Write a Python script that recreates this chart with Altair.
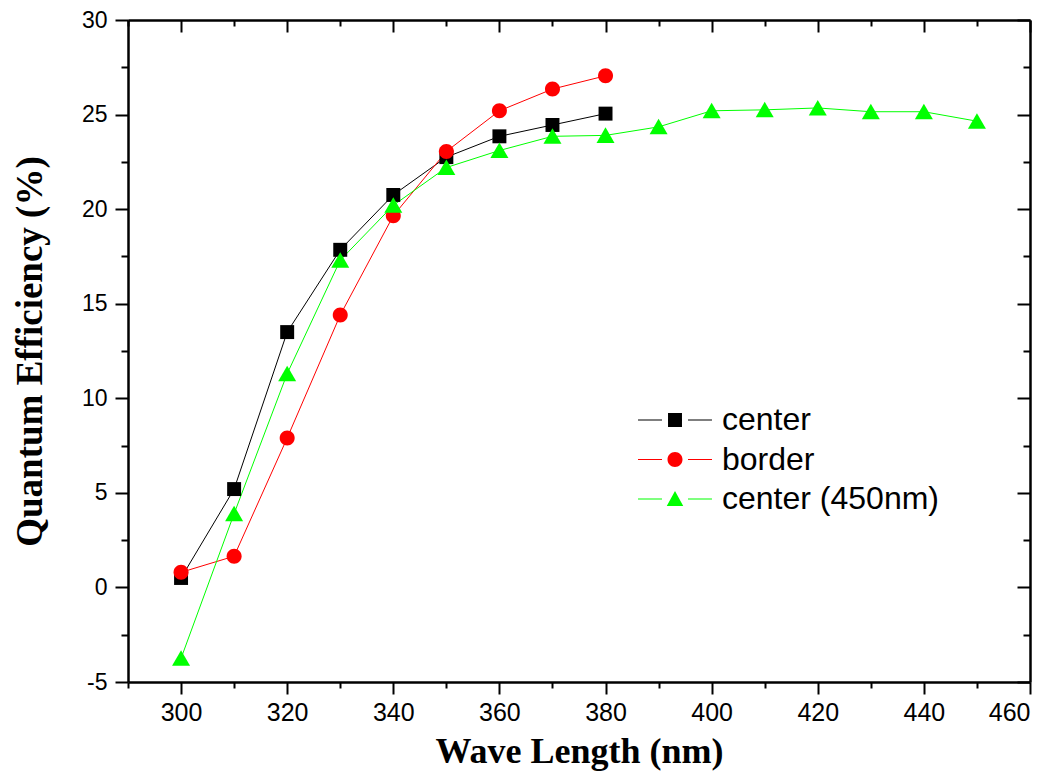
import altair as alt
import pandas as pd

# ---- data ----
series_names = ["center", "border", "center (450nm)"]
series_colors = ["#000000", "#FF0000", "#00FF00"]

wl_center = [300, 310, 320, 330, 340, 350, 360, 370, 380]
qe_center = [0.5, 5.2, 13.5, 17.85, 20.75, 22.75, 23.85, 24.45, 25.05]

wl_border = [300, 310, 320, 330, 340, 350, 360, 370, 380]
qe_border = [0.8, 1.65, 7.9, 14.4, 19.65, 23.05, 25.2, 26.35, 27.05]

wl_450 = [300, 310, 320, 330, 340, 350, 360, 370, 380, 390, 400, 410, 420, 430, 440, 450]
qe_450 = [-3.75, 3.9, 11.3, 17.3, 20.2, 22.2, 23.1, 23.85, 23.9, 24.35, 25.2, 25.25, 25.35, 25.15, 25.15, 24.65]

x_ticks = list(range(290, 461, 10))
y_ticks = [-5 + 2.5 * i for i in range(15)]

frames = []
for name, wl, qe in [(series_names[0], wl_center, qe_center),
                     (series_names[1], wl_border, qe_border),
                     (series_names[2], wl_450, qe_450)]:
    frames.append(pd.DataFrame({"wl": wl, "qe": qe, "series": name}))
df = pd.concat(frames, ignore_index=True)

W, H = 902, 662

# marker shapes (custom paths, unit = sqrt(size)/2)
plot_shapes = [
    "M-0.93,-0.93H0.93V0.93H-0.93Z",
    "M-1,0A1,1,0,1,1,1,0A1,1,0,1,1,-1,0Z",
    "M0,-1.07L1.2,1L-1.2,1Z",
]
stub = "M-4.93,-0.08H-1.73V0.08H-4.93ZM1.73,-0.08H4.93V0.08H1.73Z"
legend_shapes = [
    "M-0.93,-0.93H0.93V0.93H-0.93Z" + stub,
    "M-1,0A1,1,0,1,1,1,0A1,1,0,1,1,-1,0Z" + stub,
    "M0,-1.07L1.1,0.93L-1.1,0.93Z" + stub,
]

xscale = alt.Scale(domain=[290, 460], nice=False, zero=False)
yscale = alt.Scale(domain=[-5, 30], nice=False, zero=False)
cscale = alt.Scale(domain=series_names, range=series_colors)

x_tick_size = {"condition": {"test": "datum.value % 20 === 0", "value": 12}, "value": 6}
y_tick_size = {"condition": {"test": "datum.value % 5 === 0", "value": 13}, "value": 7}

x_bottom = alt.Axis(values=x_ticks, orient="bottom",
                    labelExpr="datum.value % 20 === 0 ? '' + datum.value : ''",
                    tickSize=x_tick_size, labelPadding=6, titlePadding=9,
                    title="Wave Length (nm)")
y_left = alt.Axis(values=y_ticks, orient="left",
                  labelExpr="datum.value % 5 === 0 ? '' + datum.value : ''",
                  tickSize=y_tick_size, labelPadding=8, titlePadding=32,
                  titleFontSize=37, labelFontSize=23,
                  title="Quantum Efficiency (%)")
x_top = alt.Axis(values=x_ticks, orient="bottom", offset=-H, labels=False,
                 tickSize=x_tick_size, title=None)
y_right = alt.Axis(values=y_ticks, orient="left", offset=-W, labels=False,
                   tickSize=y_tick_size, title=None)

base = alt.Chart(df)

lines = base.mark_line(strokeWidth=1).encode(
    x=alt.X("wl:Q", scale=xscale, axis=x_bottom),
    y=alt.Y("qe:Q", scale=yscale, axis=y_left),
    color=alt.Color("series:N", scale=cscale, legend=None),
    order="wl:Q",
)

points = base.mark_point(filled=True, size=225, opacity=1).encode(
    x=alt.X("wl:Q", scale=xscale, axis=x_top),
    y=alt.Y("qe:Q", scale=yscale, axis=y_right),
    color=alt.Color("series:N", scale=cscale, legend=None),
    shape=alt.Shape("series:N", scale=alt.Scale(domain=series_names, range=plot_shapes), legend=None),
)

leg = alt.Legend(orient="none", legendX=531, legendY=384, title=None,
                 labelFont="Liberation Sans", labelFontSize=32, labelColor="#000000",
                 labelLimit=600,
                 symbolSize=225, symbolStrokeWidth=0, symbolOpacity=1,
                 labelOffset=31, rowPadding=7.5, padding=0)

legend_layer = base.mark_point(filled=True, size=225, opacity=0).encode(
    x=alt.X("wl:Q", scale=xscale, axis=None),
    y=alt.Y("qe:Q", scale=yscale, axis=None),
    color=alt.Color("series:N", scale=cscale, legend=leg),
    shape=alt.Shape("series:N", scale=alt.Scale(domain=series_names, range=legend_shapes), legend=leg),
)

chart = alt.layer(lines, points, legend_layer).resolve_scale(
    color="independent", shape="independent"
).resolve_axis(
    x="independent", y="independent"
).properties(
    width=W, height=H,
    autosize=alt.AutoSizeParams(type="none"),
    padding={"left": 120, "top": 12, "right": 15, "bottom": 92},
).configure_view(stroke=None).configure_axis(
    grid=False,
    domainColor="#000000", domainWidth=2.5,
    tickColor="#000000", tickWidth=2,
    labelFont="Liberation Sans", labelFontSize=25, labelColor="#000000",
    titleFont="Liberation Serif", titleFontWeight="bold", titleFontSize=36, titleColor="#000000",
)

chart.save("out.html", embed_options={"renderer": "svg", "actions": False})
